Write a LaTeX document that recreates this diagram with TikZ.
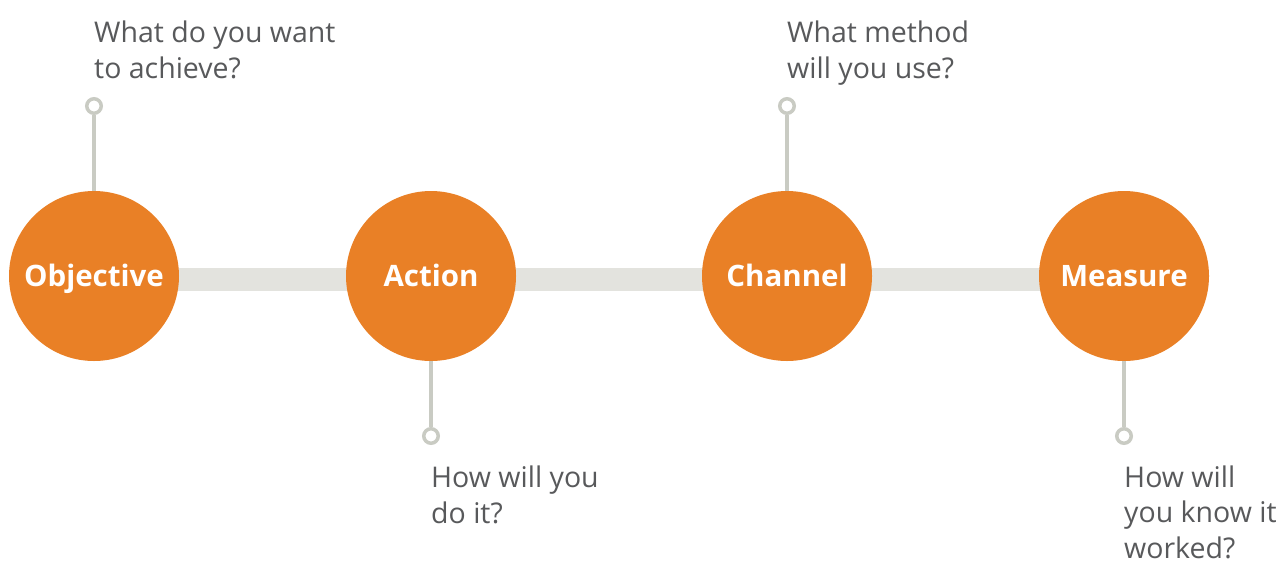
\documentclass[tikz,border=0pt]{standalone}
\usepackage{fontspec}
\setmainfont{Open Sans}
\definecolor{orng}{HTML}{E98026}
\definecolor{barc}{HTML}{E3E3DE}
\definecolor{stemc}{HTML}{C9CBC3}
\definecolor{txtc}{HTML}{58595B}
\begin{document}
\begin{tikzpicture}[x=1pt,y=-1pt,
  stage/.style={circle,fill=orng,minimum size=170pt,inner sep=0pt,text=white,text height=20pt,text depth=0pt,font=\fontsize{29.5}{34}\selectfont\bfseries},
  ring/.style={circle,draw=stemc,line width=3.5pt,fill=white,minimum size=14.5pt,inner sep=0pt},
  stem/.style={draw=stemc,line width=4pt},
  bar/.style={draw=barc,line width=23pt},
  lbl/.style={anchor=base west,align=left,inner sep=0pt,text=txtc,font=\fontsize{28.5}{35.5}\selectfont}]
\useasboundingbox (0,0) rectangle (1281,563);
\coordinate (b1) at (94,279.5);
\coordinate (b4) at (1124,279.5);
\draw[bar] (b1) -- (b4);
\node[stage] (obj) at (94,276) {Objective};
\node[stage] (act) at (431,276) {Action};
\node[stage] (cha) at (787,276) {Channel};
\node[stage] (mea) at (1124,276) {Measure};
\node[ring] (r1) at (94,106) {};
\node[ring] (r2) at (431,436) {};
\node[ring] (r3) at (787,106) {};
\node[ring] (r4) at (1124,436) {};
\draw[stem] (obj.north) -- (r1.south);
\draw[stem] (act.south) -- (r2.north);
\draw[stem] (cha.north) -- (r3.south);
\draw[stem] (mea.south) -- (r4.north);
\node[lbl] (t1) at (94,78) {What do you want\\to achieve?};
\node[lbl] (t2) at (431,523) {How will you\\do it?};
\node[lbl] (t3) at (787,78) {What method\\will you use?};
\node[lbl] (t4) at (1124,558) {How will\\you know it\\worked?};
\end{tikzpicture}
\end{document}
